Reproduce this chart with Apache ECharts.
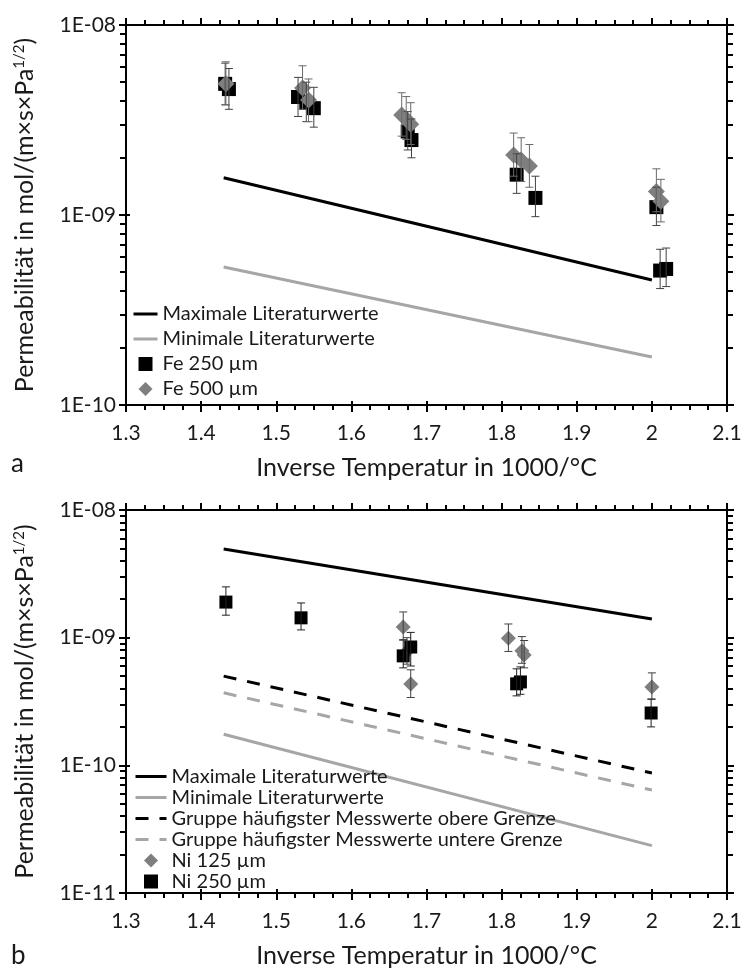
<!DOCTYPE html>
<html>
<head>
<meta charset="utf-8">
<script src="https://cdn.jsdelivr.net/npm/echarts@6/dist/echarts.min.js"></script>
<style>
html, body { margin: 0; padding: 0; background: #fff; }
#chart { width: 745px; height: 970px; }
</style>
</head>
<body>
<div id="chart"></div>
<script>
// ---------- Panel a: iron ----------
const litX = [1.43, 2.0];
const feLitMax = [1.57e-9, 4.55e-10];
const feLitMin = [5.32e-10, 1.79e-10];

const fe250X  = [1.432, 1.437, 1.529, 1.540, 1.550, 1.675, 1.680, 1.820, 1.845, 2.006, 2.011, 2.019];
const fe250Y  = [4.9e-9, 4.6e-9, 4.18e-9, 3.89e-9, 3.65e-9, 2.75e-9, 2.48e-9, 1.63e-9, 1.23e-9, 1.10e-9, 5.1e-10, 5.2e-10];
const fe250Lo = [3.8e-9, 3.6e-9, 3.3e-9, 3.1e-9, 2.9e-9, 2.2e-9, 2.0e-9, 1.3e-9, 0.98e-9, 0.88e-9, 4.1e-10, 4.2e-10];
const fe250Hi = [6.3e-9, 5.9e-9, 5.3e-9, 5.0e-9, 4.7e-9, 3.5e-9, 3.2e-9, 2.1e-9, 1.6e-9, 1.4e-9, 6.6e-10, 6.7e-10];

const fe500X  = [1.433, 1.535, 1.543, 1.667, 1.673, 1.679, 1.816, 1.826, 1.837, 2.006, 2.012];
const fe500Y  = [4.9e-9, 4.66e-9, 4.03e-9, 3.36e-9, 3.2e-9, 3.0e-9, 2.07e-9, 1.95e-9, 1.81e-9, 1.33e-9, 1.18e-9];
const fe500Lo = [3.8e-9, 3.6e-9, 3.1e-9, 2.6e-9, 2.5e-9, 2.35e-9, 1.6e-9, 1.5e-9, 1.4e-9, 1.04e-9, 0.92e-9];
const fe500Hi = [6.4e-9, 6.1e-9, 5.2e-9, 4.4e-9, 4.2e-9, 3.9e-9, 2.7e-9, 2.55e-9, 2.35e-9, 1.75e-9, 1.54e-9];

// ---------- Panel b: nickel ----------
const niLitMax = [4.95e-9, 1.40e-9];
const niLitMin = [1.75e-10, 2.35e-11];
const niGroupUpper = [5.0e-10, 8.7e-11];
const niGroupLower = [3.7e-10, 6.4e-11];

const ni125X  = [1.669, 1.674, 1.679, 1.809, 1.827, 1.830, 2.000];
const ni125Y  = [1.21e-9, 7.8e-10, 4.34e-10, 9.9e-10, 7.9e-10, 7.3e-10, 4.1e-10];
const ni125Lo = [9.6e-10, 6.2e-10, 3.4e-10, 7.8e-10, 6.3e-10, 5.8e-10, 3.3e-10];
const ni125Hi = [1.59e-9, 1.0e-9, 5.6e-10, 1.28e-9, 1.02e-9, 9.5e-10, 5.3e-10];

const ni250X  = [1.433, 1.533, 1.669, 1.679, 1.820, 1.825, 1.999];
const ni250Y  = [1.9e-9, 1.43e-9, 7.2e-10, 8.45e-10, 4.35e-10, 4.5e-10, 2.57e-10];
const ni250Lo = [1.5e-9, 1.15e-9, 5.8e-10, 6.0e-10, 3.5e-10, 3.6e-10, 2.0e-10];
const ni250Hi = [2.5e-9, 1.87e-9, 9.6e-10, 1.1e-9, 5.7e-10, 5.9e-10, 3.3e-10];

// Axis ranges and names
const xMin = 1.3, xMax = 2.1, xStep = 0.1;
const yRangeA = [1e-10, 1e-8];
const yRangeB = [1e-11, 1e-8];
const xTitle = 'Inverse Temperatur in 1000/°C';
const yTitle = 'Permeabilität in mol/(m×s×Pa{sup|1/2})';
const panelLabels = ['a', 'b'];

const FONT = 'Lato';
const INK = '#1a1a1a';
const BLACK = '#000000';
const GREY_MARK = '#7f7f7f';
const GREY_LINE = '#a6a6a6';
const DASH = [13, 11];
const SQUARE_ICON = 'path://M0,0L10,0L10,10L0,10Z';
const DIAMOND_ICON = 'path://M5,0L10,5L5,10L0,5Z';

const chart = echarts.init(document.getElementById('chart'), null, { renderer: 'canvas' });

function expLabel(v) {
  const e = Math.round(Math.log10(v));
  return '1E' + (e < 0 ? '-' : '+') + String(Math.abs(e)).padStart(2, '0');
}

function pairs(xs, ys) { return xs.map((x, i) => [x, ys[i]]); }
function triples(xs, lo, hi) { return xs.map((x, i) => [x, lo[i], hi[i]]); }

const grids = [
  { left: 126, top: 25, width: 601, height: 380 },
  { left: 126, top: 510, width: 601, height: 383 }
];

const tickLine = { color: BLACK, width: 2 };
const xAxes = [], yAxes = [];
const innerX = [], innerY = [];

grids.forEach((g, gi) => {
  const xBase = {
    gridIndex: gi, type: 'value', min: xMin, max: xMax, interval: xStep,
    axisLine: { show: true, onZero: false, lineStyle: tickLine },
    axisTick: { show: true, length: 7, lineStyle: tickLine },
    minorTick: { show: true, splitNumber: 4, length: 5, lineStyle: tickLine },
    splitLine: { show: false }
  };
  xAxes.push(Object.assign({}, xBase, {
    position: 'bottom',
    axisLabel: { fontFamily: FONT, fontSize: 21, color: INK, margin: 18 },
    name: xTitle, nameLocation: 'middle', nameGap: 50,
    nameTextStyle: { fontFamily: FONT, fontSize: 25, color: INK }
  }));
  xAxes.push(Object.assign({}, xBase, { position: 'top', axisLabel: { show: false } }));
  // short inward stubs so the major ticks cross the bottom axis line
  innerX.push({
    gridIndex: gi, type: 'value', min: xMin, max: xMax, interval: xStep, position: 'bottom',
    axisLine: { show: false, onZero: false }, axisLabel: { show: false }, splitLine: { show: false },
    axisTick: { show: true, inside: true, length: 4, lineStyle: tickLine }
  });

  const yr = gi === 0 ? yRangeA : yRangeB;
  const yBase = {
    gridIndex: gi, type: 'log', logBase: 10, min: yr[0], max: yr[1],
    axisLine: { show: true, onZero: false, lineStyle: tickLine },
    axisTick: { show: true, length: 7, lineStyle: tickLine },
    minorTick: { show: true, splitNumber: 9, length: 6, lineStyle: tickLine },
    splitLine: { show: false }
  };
  yAxes.push(Object.assign({}, yBase, {
    position: 'left',
    axisLabel: { fontFamily: FONT, fontSize: 21, color: INK, margin: 10, formatter: expLabel },
    name: yTitle, nameLocation: 'middle', nameGap: 88,
    nameTextStyle: {
      fontFamily: FONT, fontSize: 25, color: INK,
      rich: { sup: { fontFamily: FONT, fontSize: 15, color: INK, verticalAlign: 'top', padding: [0, 0, 11, 0] } }
    }
  }));
  yAxes.push(Object.assign({}, yBase, { position: 'right', axisLabel: { show: false } }));
  innerY.push({
    gridIndex: gi, type: 'log', logBase: 10, min: yr[0], max: yr[1], position: 'left',
    axisLine: { show: false, onZero: false }, axisLabel: { show: false }, splitLine: { show: false },
    axisTick: { show: true, inside: true, length: 4, lineStyle: tickLine }
  });
});
xAxes.push(...innerX);
yAxes.push(...innerY);

function lineSeries(name, ys, color, dashed, gi) {
  return {
    name, type: 'line', xAxisIndex: gi * 2, yAxisIndex: gi * 2,
    data: pairs(litX, ys), symbol: 'none', showSymbol: false,
    lineStyle: { color, width: 3, type: dashed ? DASH : 'solid' },
    itemStyle: { color }, z: 2, silent: true
  };
}

function scatterSeries(name, xs, ys, symbol, size, color, gi, z) {
  return {
    name, type: 'scatter', xAxisIndex: gi * 2, yAxisIndex: gi * 2,
    data: pairs(xs, ys), symbol, symbolSize: size,
    itemStyle: { color, opacity: 1 }, z, silent: true
  };
}

function errorSeries(xs, lo, hi, color, gi, z) {
  return {
    type: 'custom', xAxisIndex: gi * 2, yAxisIndex: gi * 2,
    data: triples(xs, lo, hi), encode: { x: 0, y: [1, 2] }, z, silent: true,
    renderItem(params, api) {
      const x = api.value(0);
      const a = api.coord([x, api.value(1)]);
      const b = api.coord([x, api.value(2)]);
      const cap = 4;
      const st = { stroke: color, lineWidth: 1 };
      return {
        type: 'group',
        children: [
          { type: 'line', shape: { x1: a[0], y1: a[1], x2: b[0], y2: b[1] }, style: st },
          { type: 'line', shape: { x1: a[0] - cap, y1: a[1], x2: a[0] + cap, y2: a[1] }, style: st },
          { type: 'line', shape: { x1: b[0] - cap, y1: b[1], x2: b[0] + cap, y2: b[1] }, style: st }
        ]
      };
    }
  };
}

const series = [
  lineSeries('Maximale Literaturwerte', feLitMax, BLACK, false, 0),
  lineSeries('Minimale Literaturwerte', feLitMin, GREY_LINE, false, 0),
  scatterSeries('Fe 250 µm', fe250X, fe250Y, 'rect', 14, BLACK, 0, 3),
  scatterSeries('Fe 500 µm', fe500X, fe500Y, 'diamond', 17, GREY_MARK, 0, 4),
  errorSeries(fe250X, fe250Lo, fe250Hi, '#404040', 0, 5),
  errorSeries(fe500X, fe500Lo, fe500Hi, '#6a6a6a', 0, 5),

  lineSeries('Maximale Literaturwerte ', niLitMax, BLACK, false, 1),
  lineSeries('Minimale Literaturwerte ', niLitMin, GREY_LINE, false, 1),
  lineSeries('Gruppe häufigster Messwerte obere Grenze', niGroupUpper, BLACK, true, 1),
  lineSeries('Gruppe häufigster Messwerte untere Grenze', niGroupLower, GREY_LINE, true, 1),
  scatterSeries('Ni 125 µm', ni125X, ni125Y, 'diamond', 15, GREY_MARK, 1, 3),
  scatterSeries('Ni 250 µm', ni250X, ni250Y, 'rect', 13, BLACK, 1, 4),
  errorSeries(ni125X, ni125Lo, ni125Hi, '#404040', 1, 5),
  errorSeries(ni250X, ni250Lo, ni250Hi, '#202020', 1, 5)
];

const legendText = { fontFamily: FONT, fontSize: 20, color: INK };
const hideMarker = { opacity: 0 };

function lineEntry(name, color, dashed) {
  return { name, itemStyle: hideMarker, lineStyle: { color, width: 3, type: dashed ? DASH : 'solid' } };
}

const option = {
  animation: false,
  backgroundColor: '#ffffff',
  grid: grids,
  xAxis: xAxes,
  yAxis: yAxes,
  title: [
    { text: panelLabels[0], left: 6, top: 446, textStyle: { fontFamily: FONT, fontSize: 26, fontWeight: 'normal', color: INK } },
    { text: panelLabels[1], left: 6, top: 938, textStyle: { fontFamily: FONT, fontSize: 26, fontWeight: 'normal', color: INK } }
  ],
  legend: [
    {
      orient: 'vertical', left: 127, top: 298, itemWidth: 24, itemHeight: 14, itemGap: 3,
      textStyle: Object.assign({ lineHeight: 22 }, legendText),
      formatter: n => n.trim(),
      data: [
        lineEntry('Maximale Literaturwerte', BLACK, false),
        lineEntry('Minimale Literaturwerte', GREY_LINE, false),
        { name: 'Fe 250 µm', icon: SQUARE_ICON },
        { name: 'Fe 500 µm', icon: DIAMOND_ICON }
      ]
    },
    {
      orient: 'vertical', left: 129, top: 761, itemWidth: 31, itemHeight: 14, itemGap: 0,
      textStyle: Object.assign({ lineHeight: 21 }, legendText),
      formatter: n => n.trim(),
      data: [
        lineEntry('Maximale Literaturwerte ', BLACK, false),
        lineEntry('Minimale Literaturwerte ', GREY_LINE, false),
        lineEntry('Gruppe häufigster Messwerte obere Grenze', BLACK, true),
        lineEntry('Gruppe häufigster Messwerte untere Grenze', GREY_LINE, true),
        { name: 'Ni 125 µm', icon: DIAMOND_ICON },
        { name: 'Ni 250 µm', icon: SQUARE_ICON }
      ]
    }
  ],
  series
};

chart.setOption(option);
</script>
</body>
</html>
